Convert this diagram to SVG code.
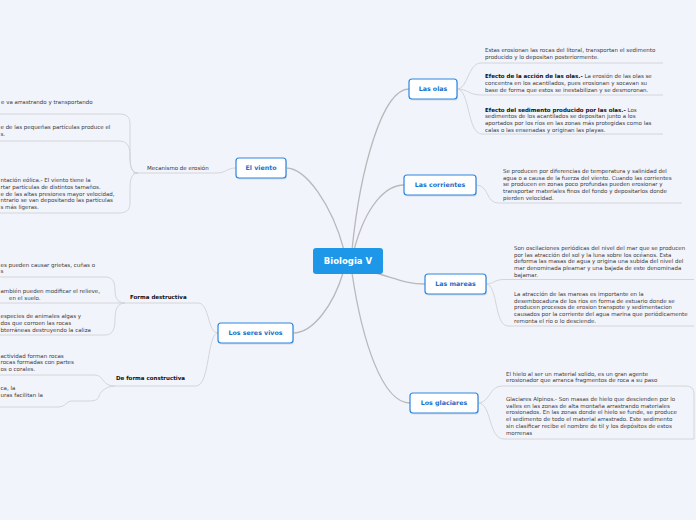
<svg xmlns="http://www.w3.org/2000/svg" width="696" height="520" viewBox="0 0 696 520">
<style>
.main{fill:none;stroke:#b9b9bc;stroke-width:1.3}
.sub{fill:none;stroke:#cfd1d6;stroke-width:0.9}
.nb{fill:#fff;stroke:#2d86e0;stroke-width:1.2}
.sh{fill:#d6dbe6}
.nt{font-family:"DejaVu Sans",Verdana,sans-serif;font-weight:bold;font-size:6.3px;fill:#1a6fcb;text-anchor:middle}
.t{font-family:"DejaVu Sans",Verdana,sans-serif;font-size:5.5px;fill:#3a3a3a}
.b{font-weight:bold;fill:#111}
.lb{font-family:"DejaVu Sans",Verdana,sans-serif;font-size:5.5px;fill:#333}
.lbb{font-family:"DejaVu Sans",Verdana,sans-serif;font-size:5.5px;font-weight:bold;fill:#111}
</style>
<rect width="696" height="520" fill="#f2f4fb"/>
<g id="connectors">
<path class="main" d="M286,168 C306,168 332,205 344,250"/>
<path class="main" d="M352,250 C360,170 382,89 409,89"/>
<path class="main" d="M354,250 C366,205 386,185 404,185"/>
<path class="main" d="M372,272 C395,278 405,284 425,284"/>
<path class="main" d="M343,273 C334,303 314,333 293,333"/>
<path class="main" d="M352,273 C362,340 382,403 410,403"/>
<path class="sub" d="M457,89 C468,89 468,63 481,63 H663"/>
<path class="sub" d="M457,89 C468,89 469,95 481,95 H663"/>
<path class="sub" d="M457,89 C470,89 467,134 482,134 H663"/>
<path class="sub" d="M476,185 C489,185 486,203 498,203 H682"/>
<path class="sub" d="M486,284 C494,284 494,279.5 504,279.5 H694"/>
<path class="sub" d="M486,284 C498,284 494,326 508,326 H694"/>
<path class="sub" d="M478,403 C490,403 489,386 502,386 H686 Q694,386 694,394 V439"/>
<path class="sub" d="M478,403 C492,403 488,439 504,439 H694"/>
<path class="sub" d="M236,168 C226,168 227,173 216,173 H133"/>
<path class="sub" d="M138,173 C131,173 130,166 130,156 V124 C130,117 127,114 119,114 H0"/>
<path class="sub" d="M138,173 C131,173 130,165 130,155 C130,145 126,141 119,141 H0"/>
<path class="sub" d="M138,173 C131,173 130,180 130,190 V203 C130,210 126,213 119,213 H0"/>
<path class="sub" d="M218,333 C207,333 210,303 198,303 H125"/>
<path class="sub" d="M218,333 C207,333 210,386 196,386 H115"/>
<path class="sub" d="M125,303 C117,303 115,297 115,290 C115,281 112,277 105,277 H0"/>
<path class="sub" d="M125,303 H0"/>
<path class="sub" d="M125,303 C117,303 115,310 115,320 C115,330 112,335 105,335 H0"/>
<path class="sub" d="M115,386 C106,386 104,381 102,379 C100,376 98,375 92,375 H0"/>
<path class="sub" d="M115,386 C106,386 100,392 99,396 C98,400 95,401 88,401 H72 C66,401 66,407 58,407 H0"/>
</g>
<g id="center">
<rect x="313" y="248" width="70" height="26" rx="3" fill="#1e97e8"/>
<text x="348" y="264.3" font-family="DejaVu Sans,Verdana,sans-serif" font-weight="bold" font-size="8.5" fill="#fff" text-anchor="middle">Biologia V</text>
</g>
<g id="el-viento">
<rect class="sh" x="237" y="159.5" width="50" height="20" rx="3"/>
<rect class="nb" x="236" y="158" width="50" height="20" rx="3"/>
<text class="nt" x="261" y="170.3">El viento</text>
</g>
<g id="los-seres-vivos">
<rect class="sh" x="219" y="324.5" width="75" height="20" rx="3"/>
<rect class="nb" x="218" y="323" width="75" height="20" rx="3"/>
<text class="nt" x="255.5" y="335.3">Los seres vivos</text>
</g>
<g id="las-olas">
<rect class="sh" x="410" y="80.5" width="48" height="20" rx="3"/>
<rect class="nb" x="409" y="79" width="48" height="20" rx="3"/>
<text class="nt" x="433" y="91.3">Las olas</text>
</g>
<g id="las-corrientes">
<rect class="sh" x="405" y="176.5" width="72" height="20" rx="3"/>
<rect class="nb" x="404" y="175" width="72" height="20" rx="3"/>
<text class="nt" x="440" y="187.3">Las corrientes</text>
</g>
<g id="las-mareas">
<rect class="sh" x="426" y="275.5" width="61" height="20" rx="3"/>
<rect class="nb" x="425" y="274" width="61" height="20" rx="3"/>
<text class="nt" x="455.5" y="286.3">Las mareas</text>
</g>
<g id="los-glaciares">
<rect class="sh" x="411" y="394.5" width="68" height="20" rx="3"/>
<rect class="nb" x="410" y="393" width="68" height="20" rx="3"/>
<text class="nt" x="444" y="405.3">Los glaciares</text>
</g>
<g id="olas-1">
<text class="t" x="485" y="52.4">Estas erosionan las rocas del litoral, transportan el sedimento</text>
<text class="t" x="485" y="59">producido y lo depositan posteriormente.</text>
</g>
<g id="olas-2">
<text class="t" x="485" y="78.4"><tspan class="b">Efecto de la acción de las olas.-</tspan> La erosión de las olas se</text>
<text class="t" x="485" y="85">concentra en los acantilados, pues erosionan y socavan su</text>
<text class="t" x="485" y="91.6">base de forma que estos se inestabilizan y se desmoronan.</text>
</g>
<g id="olas-3">
<text class="t" x="485" y="111.7"><tspan class="b">Efecto del sedimento producido por las olas.-</tspan> Los</text>
<text class="t" x="485" y="118.3">sedimentos de los acantilados se depositan junto a los</text>
<text class="t" x="485" y="124.9">aportados por los ríos en las zonas más protegidas como las</text>
<text class="t" x="485" y="131.5">calas o las ensenadas y originan las playas.</text>
</g>
<g id="corrientes-1">
<text class="t" x="503" y="173">Se producen por diferencias de temperatura y salinidad del</text>
<text class="t" x="503" y="179.7">agua o a causa de la fuerza del viento. Cuando las corrientes</text>
<text class="t" x="503" y="186.4">se producen en zonas poco profundas pueden erosionar y</text>
<text class="t" x="503" y="193.1">transportar materiales finos del fondo y depositarlos donde</text>
<text class="t" x="503" y="199.8">pierden velocidad.</text>
</g>
<g id="mareas-1">
<text class="t" x="514" y="250">Son oscilaciones periódicas del nivel del mar que se producen</text>
<text class="t" x="514" y="256.7">por las atracción del sol y la luna sobre los océanos. Esta</text>
<text class="t" x="514" y="263.4">deforma las masas de agua y origina una subida del nivel del</text>
<text class="t" x="514" y="270.1">mar denominada pleamar y una bajada de este denominada</text>
<text class="t" x="514" y="276.8">bajamar.</text>
</g>
<g id="mareas-2">
<text class="t" x="514" y="296">La atracción de las mareas es importante en la</text>
<text class="t" x="514" y="302.7">desembocadura de los ríos en forma de estuario donde se</text>
<text class="t" x="514" y="309.4">producen procesos de erosion transpote y sedimentacion</text>
<text class="t" x="514" y="316.1">causados por la corriente del agua marina que periódicamente</text>
<text class="t" x="514" y="322.8">remonta el río o lo desciende.</text>
</g>
<g id="glaciares-1">
<text class="t" x="506" y="375.7">El hielo al ser un material solido, es un gran agente</text>
<text class="t" x="506" y="382.4">erosionador que arranca fragmentos de roca a su paso</text>
</g>
<g id="glaciares-2">
<text class="t" x="506" y="401">Glaciares Alpinos.- Son masas de hielo que descienden por lo</text>
<text class="t" x="506" y="407.7">valles en las zonas de alta montaña arrastrando materiales</text>
<text class="t" x="506" y="414.4">erosionados. En las zonas donde el hielo se funde, se produce</text>
<text class="t" x="506" y="421.1">el sedimento de todo el material arrastrado. Este sedimento</text>
<text class="t" x="506" y="427.8">sin clasificar recibe el nombre de til y los depósitos de estos</text>
<text class="t" x="506" y="434.5">morrenas</text>
</g>
<g id="mecanismo">
<text class="lb" x="147" y="169.5">Mecanismo de erosión</text>
</g>
<g id="viento-1">
<text class="t" x="1" y="104">e va arrastrando y transportando</text>
</g>
<g id="viento-2">
<text class="t" x="0.5" y="129.4">e de las pequeñas partículas produce el</text>
<text class="t" x="0.5" y="136">s.</text>
</g>
<g id="viento-3">
<text class="t" x="0.5" y="182.4">ntación eólica.- El viento tiene la</text>
<text class="t" x="0.5" y="189">rtar partículas de distintos tamaños.</text>
<text class="t" x="0.5" y="195.6">e de las altas presiones mayor velocidad,</text>
<text class="t" x="0.5" y="202.2">ntrario se van depositando las partículas</text>
<text class="t" x="0.5" y="208.8">s más ligeras.</text>
</g>
<g id="forma-destructiva">
<text class="lbb" x="130" y="298.6">Forma destructiva</text>
</g>
<g id="destructiva-1">
<text class="t" x="0.5" y="266.7">es pueden causar grietas, cuñas o</text>
<text class="t" x="0.5" y="273.1">s</text>
</g>
<g id="destructiva-2">
<text class="t" x="0.5" y="293.4">ambién pueden modificar el relieve,</text>
<text class="t" x="9" y="300">en el suelo.</text>
</g>
<g id="destructiva-3">
<text class="t" x="0.5" y="318.4">especies de animales algas y</text>
<text class="t" x="0.5" y="325">dos que corroen las rocas</text>
<text class="t" x="0.5" y="331.6">bterráneas destruyendo la caliza</text>
</g>
<g id="forma-constructiva">
<text class="lbb" x="116" y="380.2">De forma constructiva</text>
</g>
<g id="constructiva-1">
<text class="t" x="0.5" y="357.7">actividad forman rocas</text>
<text class="t" x="0.5" y="364.3">rocas formadas con partes</text>
<text class="t" x="0.5" y="371">os o corales.</text>
</g>
<g id="constructiva-2">
<text class="t" x="0.5" y="390.4">ca, la</text>
<text class="t" x="0.5" y="397">uras facilitan la</text>
</g>
</svg>
